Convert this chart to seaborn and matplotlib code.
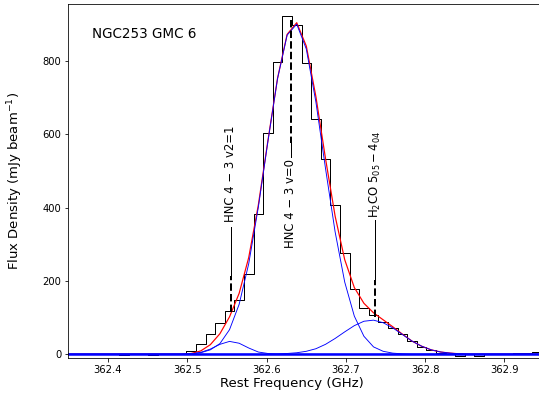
import numpy as np
import pandas as pd
import seaborn as sns
import matplotlib.pyplot as plt

# channel grid of the spectrum (GHz)
chan0 = 362.3475
dchan = 0.012106

# observed spectrum, one value per channel (mJy/beam)
spectrum = [0, 1, 0, 1, 0, 1, -3, 0, 1, -3, 0, 1, 1,
            9, 29, 54, 84, 117, 149, 220, 384, 603, 797, 923, 900, 795,
            641, 532, 406, 277, 179, 125, 106, 88, 72, 56, 35, 20, 11, 2,
            0, -4, 0, -4, 0, 1, 0, 4, 4, 5, 5]

# fitted components evaluated at the channels
comp_v2 = [0] * 13 + [1, 5, 14, 27, 35, 30, 17, 6, 2] + [0] * 29
comp_v0 = [0] * 13 + [1, 4, 12, 29, 67, 136, 247, 401, 581, 752, 871, 901, 833,
                      688, 507, 334, 197, 104, 49, 20, 8, 3, 1] + [0] * 15
comp_h2co = [0] * 22 + [1, 2, 4, 8, 15, 27, 43, 61, 78, 90, 93, 86, 72, 54,
                        36, 22, 12, 6, 3, 1] + [0] * 9

# line identifications
line_names = ["HNC 4 − 3 v2=1", "HNC 4 − 3 v=0", r"H$_2$CO $\mathregular{5_{05}-4_{04}}$"]
line_freqs = [362.5546, 362.6303, 362.7368]

freq = chan0 + dchan * np.arange(len(spectrum))
df = pd.DataFrame({"freq": freq, "spec": spectrum, "v2": comp_v2,
                   "v0": comp_v0, "h2co": comp_h2co})
df["total"] = df["v2"] + df["v0"] + df["h2co"]

fig = plt.figure(figsize=(539 / 72, 400 / 72), dpi=72)
ax = fig.add_axes([68.3 / 539, 42.3 / 400, 475.8 / 539, 353.7 / 400])

sns.lineplot(data=df, x="freq", y="spec", drawstyle="steps-mid", color="black", lw=1, ax=ax)
sns.lineplot(data=df, x="freq", y="total", color="red", lw=1.2, ax=ax)
for c in ["v2", "v0", "h2co"]:
    sns.lineplot(data=df, x="freq", y=c, color="blue", lw=0.9, ax=ax)
ax.axhline(0, color="blue", lw=2.5)

# line markers: dashed from the spectrum, then a thin line, then the label
marks = [(115, 213, 348, 360, "bottom"),
         (912, 576, 538, 532, "top"),
         (102, 202, 366, 372, "bottom")]
for f, name, (y0, y1, y2, yt, va) in zip(line_freqs, line_names, marks):
    ax.plot([f, f], [y0, y1], color="black", ls="--", lw=2)
    ax.plot([f, f], [y1, y2], color="black", lw=1)
    ax.text(f, yt, name, rotation=90, ha="center", va=va, fontsize=11.6)

ax.text(0.05, 0.914, "NGC253 GMC 6", transform=ax.transAxes, fontsize=13.5, va="center")

ax.set_xlim(362.35, 362.95)
ax.set_ylim(-9.5, 956)
ax.ticklabel_format(axis="x", useOffset=False)
ax.set_xticks([362.4, 362.5, 362.6, 362.7, 362.8, 362.9])
ax.set_yticks([0, 200, 400, 600, 800])
ax.set_xlabel("Rest Frequency (GHz)", fontsize=13.2)
ax.set_ylabel("Flux Density (mJy beam$^{-1}$)", fontsize=13.2)
ax.xaxis.set_label_coords(0.47, -0.055)
ax.yaxis.set_label_coords(-0.092, 0.5)

fig.savefig("out.png", dpi=72)
